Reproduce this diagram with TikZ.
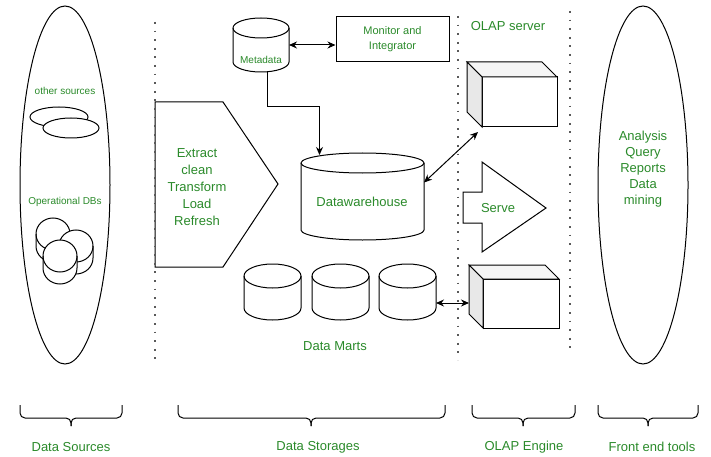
\documentclass[tikz,border=0pt]{standalone}
\usepackage{fontspec}
\setmainfont{Liberation Sans}
\usetikzlibrary{arrows.meta,shapes.geometric}
\definecolor{txtgreen}{HTML}{2A8A2A}

% cylinder: name, left x, top y, width, height, ellipse y radius
\newcommand{\drawdb}[6]{%
  \node[minimum width=#4pt, minimum height=#5pt, inner sep=0pt, outer sep=0pt, anchor=north west] (#1) at (#2,#3) {};
  \draw[shp] ([yshift=-#6pt]#1.north west) -- ([yshift=#6pt]#1.south west)
    arc[start angle=180, end angle=360, x radius=#4pt/2, y radius=#6pt]
    -- ([yshift=-#6pt]#1.north east)
    arc[start angle=0, end angle=180, x radius=#4pt/2, y radius=#6pt] -- cycle;
  \draw[line width=1pt] ([yshift=-#6pt]#1.north west)
    arc[start angle=180, end angle=360, x radius=#4pt/2, y radius=#6pt];
}
% cube: name, left x, top y, width, height, depth
\newcommand{\drawcube}[6]{%
  \node[shp, minimum width=#4pt, minimum height=#5pt, inner sep=0pt, outer sep=0pt, anchor=north west] (#1) at (#2,#3) {};
  \coordinate (#1-back) at ([shift={(-#6pt,#6pt)}]#1.north west);
  \draw[shp, fill=gray!8] (#1-back) -- ([shift={(-#6pt,#6pt)}]#1.north east) -- (#1.north east) -- (#1.north west) -- cycle;
  \draw[shp, fill=gray!18] (#1-back) -- (#1.north west) -- (#1.south west) -- ([shift={(-#6pt,#6pt)}]#1.south west) -- cycle;
}

\tikzset{
  shp/.style={draw, line width=1pt, fill=white},
  lbl/.style={text=txtgreen, font=\fontsize{13}{16}\selectfont, align=center, inner sep=0pt},
  smalllbl/.style={lbl, font=\fontsize{10}{12}\selectfont},
  arr/.style={-{Stealth[length=8pt,width=7pt]}, line width=1pt},
  darr/.style={{Stealth[length=8pt,width=7pt]}-{Stealth[length=8pt,width=7pt]}, line width=1pt},
  sep/.style={line width=1.8pt, dash pattern=on 1.8pt off 6.8pt, black!65},
  brk/.style={line width=1pt, rounded corners=5pt},
}

\begin{document}
\begin{tikzpicture}[x=1pt, y=-1pt]
    \useasboundingbox (0,0) rectangle (711,457);

    % Data sources
    \node[ellipse, draw, line width=1pt, minimum width=90pt, minimum height=358pt] (srcs) at (65,185) {};
    \node[smalllbl] (othertxt) at (65,91) {other sources};
    \node[ellipse, shp, minimum width=58pt, minimum height=20pt] (src1) at (59,117) {};
    \node[ellipse, shp, minimum width=56pt, minimum height=20pt] (src2) at (71,128) {};
    \node[smalllbl] (opdbtxt) at (65,202) {Operational DBs};
    \drawdb{odb1}{36}{218}{34}{44}{16}
    \drawdb{odb2}{59}{230}{34}{44}{16}
    \drawdb{odb3}{43}{240}{34}{44}{16}

    % ETL
    \draw[shp] (155,102) -- (223,102) -- (278,184) -- (223,267) -- (155,267) -- cycle;
    \node[lbl, font=\fontsize{13}{17}\selectfont] (etltxt) at (197,187) {Extract\\clean\\Transform\\Load\\Refresh};

    % Storage
    \drawdb{meta}{233}{18}{56}{54}{10}
    \node[smalllbl] (metatxt) at (261,60) {Metadata};
    \node[draw, line width=1pt, minimum width=113pt, minimum height=45pt, text=txtgreen,
          font=\fontsize{11}{15}\selectfont, align=center] (mon) at (392.5,39.5) {Monitor and\\Integrator};
    \drawdb{dw}{301}{153}{123}{87}{10}
    \node[lbl] (dwtxt) at (362,202) {Datawarehouse};
    \foreach \i/\x in {1/244,2/312,3/379}
        \drawdb{m\i}{\x}{264}{57}{56}{12};
    \node[lbl] (marttxt) at (335,346) {Data Marts};

    % OLAP
    \node[lbl] (olaptxt) at (508,26) {OLAP server};
    \drawcube{c1}{482}{77}{75}{50}{15}
    \drawcube{c2}{483}{279}{76}{49}{14}
    \draw[shp] (463,192) -- (482,192) -- (482,162) -- (546,208) -- (482,252) -- (482,223) -- (463,223) -- cycle;
    \node[lbl] (servetxt) at (498,208) {Serve};

    % Front end
    \node[ellipse, draw, line width=1pt, minimum width=90pt, minimum height=358pt] (tools) at (643,185) {};
    \node[lbl] (tooltxt) at (643,169.5) {Analysis\\Query\\Reports\\Data\\mining};

    % Separators
    \draw[sep] (155,22) -- (155,364);
    \draw[sep] (458,16) -- (458,360);
    \draw[sep] (570,11) -- (570,354);

    % Connectors
    \draw[darr] (meta.east) -- (meta.east -| mon.west);
    \draw[arr] ([xshift=6pt]meta.south) -- ++(0,35) -| ([xshift=-43pt,yshift=-2pt]dw.north);
    \draw[darr] ([yshift=14pt]dw.east) -- ([shift={(-4pt,-5pt)}]c1.south west);
    \draw[darr] ([yshift=-11pt]m3.east) -- ([yshift=-11pt]m3.east -| c2-back);

    % Brackets
    \foreach \a/\b/\c in {20/122/71, 178/445/311, 472/575/523, 598/698/648} {
        \draw[brk] (\a,405) -- (\a,418) -- (\c,418) -- (\c,426);
        \draw[brk] (\b,405) -- (\b,418) -- (\c,418) -- (\c,426);
    }
    \node[lbl] (srclbl) at (71,447) {Data Sources};
    \node[lbl] (storlbl) at (318,447) {Data Storages};
    \node[lbl] (englbl) at (524,447) {OLAP Engine};
    \node[lbl] (endlbl) at (652,447) {Front end tools};
\end{tikzpicture}
\end{document}
